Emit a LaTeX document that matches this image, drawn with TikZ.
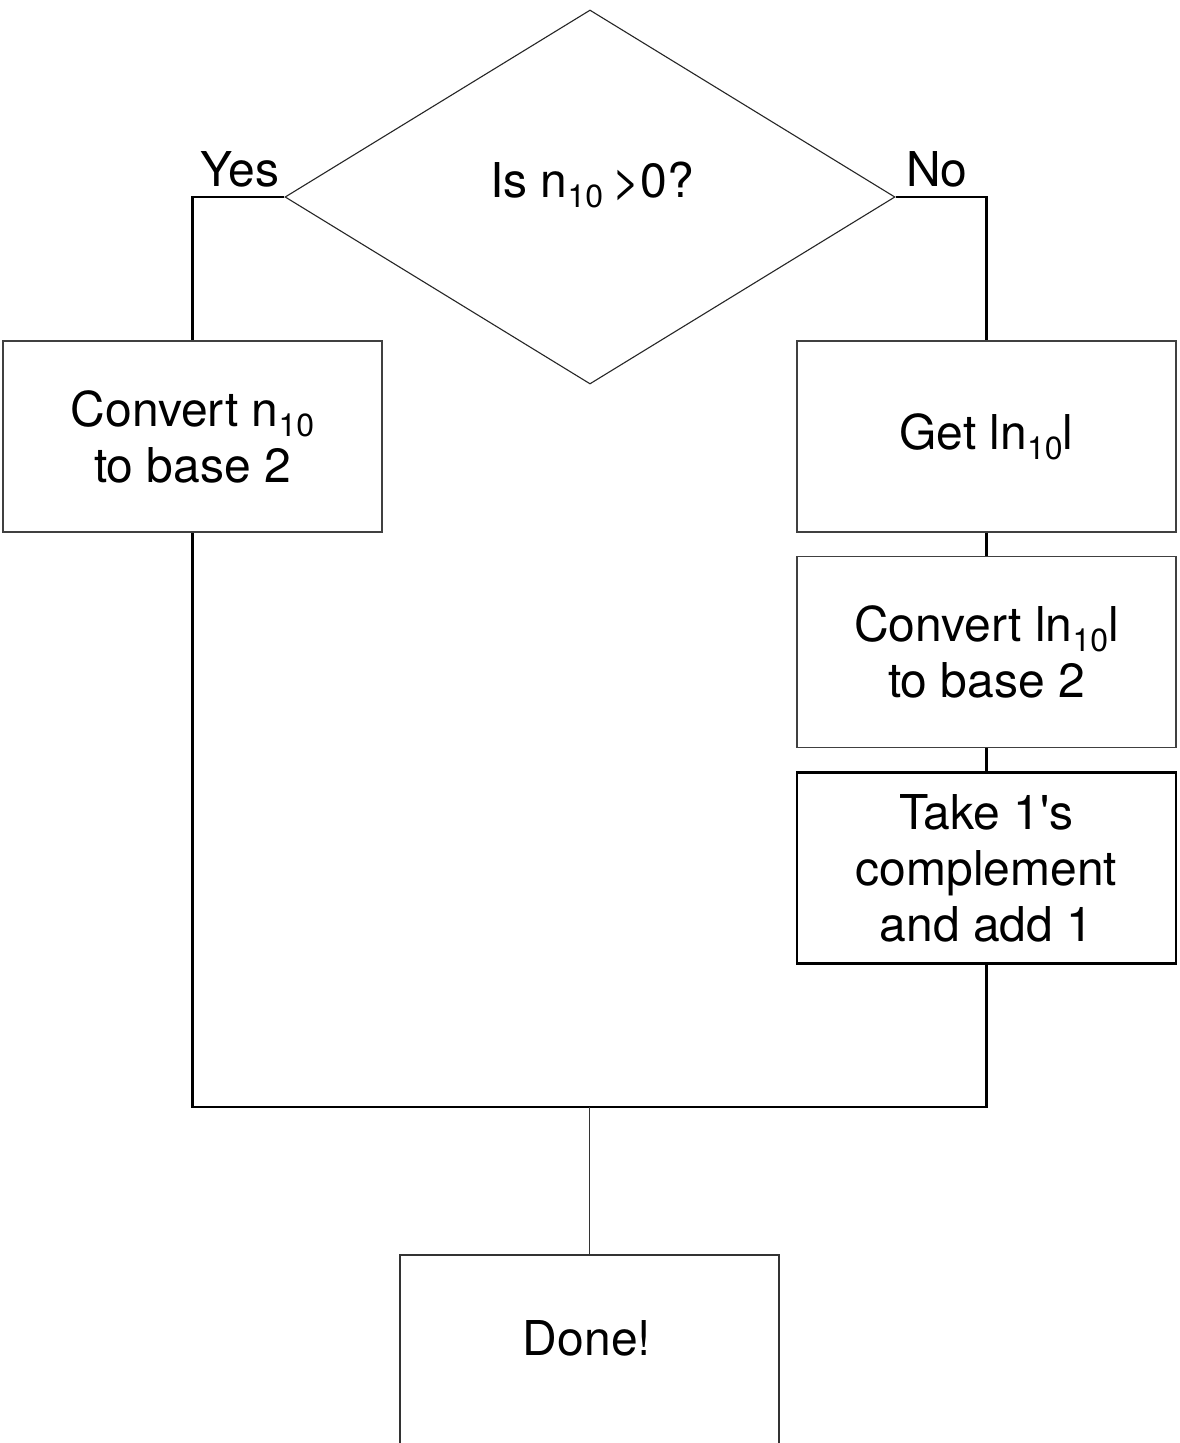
\documentclass[tikz,border=0pt]{standalone}
\usepackage{fontspec}
\setmainfont{TeX Gyre Heros}[Ligatures=TeXOff]
\usetikzlibrary{shapes.geometric}
\newcommand\subn[1]{\raisebox{-10pt}{\fontsize{32}{32}\selectfont #1}}
\tikzset{
  boxthin/.style={draw=black!75, line width=1.1pt, rectangle, inner sep=0pt, minimum width=379pt, minimum height=191pt, align=center, font=\fontsize{48}{56}\selectfont},
  boxthick/.style={boxthin, draw=black, line width=2.4pt},
  conn/.style={draw=black, line width=2.4pt},
  thinconn/.style={draw=black!80, line width=1.1pt},
  lbl/.style={inner sep=0pt, font=\fontsize{48}{56}\selectfont, anchor=base},
}
\begin{document}
\begin{tikzpicture}[x=1pt,y=-1pt]
\useasboundingbox[fill=white] (0,0) rectangle (1179,1443);
\node[diamond, draw=black!85, line width=1.1pt, minimum width=610pt, minimum height=374pt, inner sep=0pt] (q) at (590,197) {};
\node[lbl] (qt) at (592,197) {Is n\subn{10}\hspace{-4pt} >0?};
\node[lbl] (yes) at (240,186) {Yes};
\node[lbl] (no) at (937,186) {No};
\node[boxthin] (c1) at (192.5,436.5) {Convert n\subn{10}\\to base 2};
\node[boxthin] (g) at (986.5,436.5) {Get ln\subn{10}l};
\node[boxthin] (c2) at (986.5,652) {Convert ln\subn{10}l\\to base 2};
\node[boxthick] (t) at (986.5,868) {Take 1's\\complement\\and add 1};
\coordinate (join) at (589.5,1107);
\coordinate (donetop) at (589.5,1255);
\node[lbl] (done) at (587,1355) {Done!};
\draw[thinconn] (400,1450) |- (donetop) -| (779,1450);
\draw[conn] (q.west) -| (c1.north);
\draw[conn] (q.east) -| (g.north);
\draw[conn] (g) -- (c2);
\draw[conn] (c2) -- (t);
\draw[conn] (t.south) |- (join) -| (c1.south);
\draw[thinconn] (join) -- (donetop);
\end{tikzpicture}
\end{document}
